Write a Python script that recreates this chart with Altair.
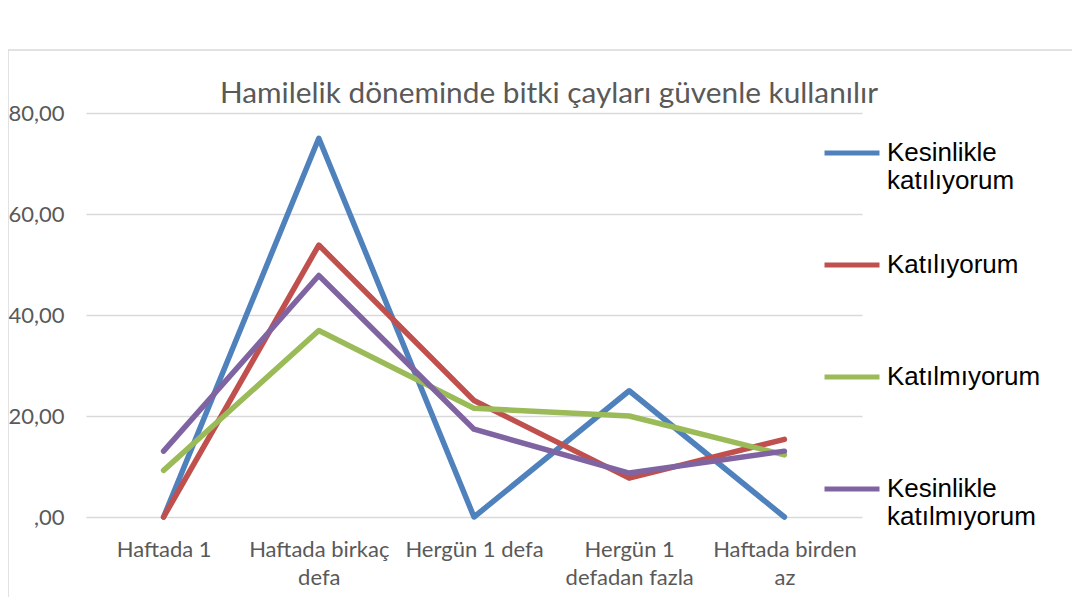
import json
import altair as alt
import pandas as pd

# ---- data ----
categories = ["Haftada 1", "Haftada birkaç defa", "Hergün 1 defa",
              "Hergün 1 defadan fazla", "Haftada birden az"]
category_lines = [["Haftada 1"], ["Haftada birkaç", "defa"], ["Hergün 1 defa"],
                  ["Hergün 1", "defadan fazla"], ["Haftada birden", "az"]]
series_names = ["Kesinlikle katılıyorum", "Katılıyorum", "Katılmıyorum",
                "Kesinlikle katılmıyorum"]
kesinlikle_katiliyorum = [0.00, 75.00, 0.00, 25.00, 0.00]
katiliyorum = [0.00, 53.85, 23.08, 7.69, 15.38]
katilmiyorum = [9.23, 36.92, 21.54, 20.00, 12.31]
kesinlikle_katilmiyorum = [13.04, 47.83, 17.39, 8.70, 13.04]
colors = ["#4f81bd", "#c0504d", "#9bbb59", "#8064a2"]
y_ticks = [0, 20, 40, 60, 80]
title_text = "Hamilelik döneminde bitki çayları güvenle kullanılır"

series_values = [kesinlikle_katiliyorum, katiliyorum, katilmiyorum, kesinlikle_katilmiyorum]
rows = []
for si, (name, vals) in enumerate(zip(series_names, series_values)):
    for ci, (cat, v) in enumerate(zip(categories, vals)):
        rows.append({"kategori": cat, "seri": name, "deger": v, "sira": si})
df = pd.DataFrame(rows)

# x label expression (multi-line)
expr = "datum.label"
for cat, lines in reversed(list(zip(categories, category_lines))):
    expr = f"datum.label == {json.dumps(cat, ensure_ascii=False)} ? {json.dumps(lines, ensure_ascii=False)} : ({expr})"

grey = "#595959"
axis_font = "Lato"

lines_chart = (
    alt.Chart(df)
    .mark_line(strokeWidth=5.5, strokeCap="round", strokeJoin="round")
    .encode(
        x=alt.X("kategori:N", sort=categories, title=None,
                scale=alt.Scale(paddingInner=0, paddingOuter=0),
                axis=alt.Axis(labelAngle=0, labelExpr=expr, labelFont=axis_font,
                              labelFontSize=22, labelColor=grey, labelLineHeight=28,
                              labelPadding=22, domain=False, ticks=False, grid=False,
                              labelLimit=0)),
        y=alt.Y("deger:Q", title=None,
                scale=alt.Scale(domain=[0, 80], nice=False),
                axis=alt.Axis(values=y_ticks, labelFont=axis_font, labelFontSize=22,
                              labelColor=grey, labelPadding=22, domain=False, ticks=False,
                              grid=True, gridColor="#d9d9d9", gridWidth=1.5,
                              labelExpr="datum.value == 0 ? ',00' : replace(format(datum.value, '.2f'), '.', ',')")),
        color=alt.Color("seri:N", sort=series_names,
                        scale=alt.Scale(domain=series_names, range=colors),
                        legend=alt.Legend(title=None, orient="none", legendX=736, legendY=10,
                                          symbolType="stroke", symbolStrokeWidth=5,
                                          symbolSize=3025, labelFont="Liberation Sans",
                                          labelFontSize=26, labelColor="black", labelLimit=0,
                                          labelOffset=5,
                                          labelExpr="indexof(datum.label, ' ') > 0 ? split(datum.label, ' ') : [datum.label, '']",
                                          labelBaseline="middle",
                                          rowPadding=41)),
        order=alt.Order("sira:Q"),
        detail="seri:N",
    )
)

frame = (
    alt.Chart(pd.DataFrame({"f": [0]}))
    .mark_rect(fill="transparent", stroke="#d9d9d9", strokeWidth=1.5)
    .encode(x=alt.value(-78), x2=alt.value(1100), y=alt.value(-63), y2=alt.value(600))
)

chart = (
    alt.layer(frame, lines_chart)
    .properties(
        width=776, height=404,
        title=alt.TitleParams(title_text, font=axis_font, fontSize=29.8, color=grey,
                              fontWeight="normal", anchor="middle",
                              dx=75, dy=94, offset=10, baseline="alphabetic"),
        autosize=alt.AutoSizeParams(type="none"),
        padding={"left": 78, "top": 105, "right": 210, "bottom": 80},
    )
    .configure_view(stroke="transparent", strokeWidth=0)
    .configure_axisX(grid=False)
)

chart.save("out.html", embed_options={"renderer": "svg", "actions": False})
